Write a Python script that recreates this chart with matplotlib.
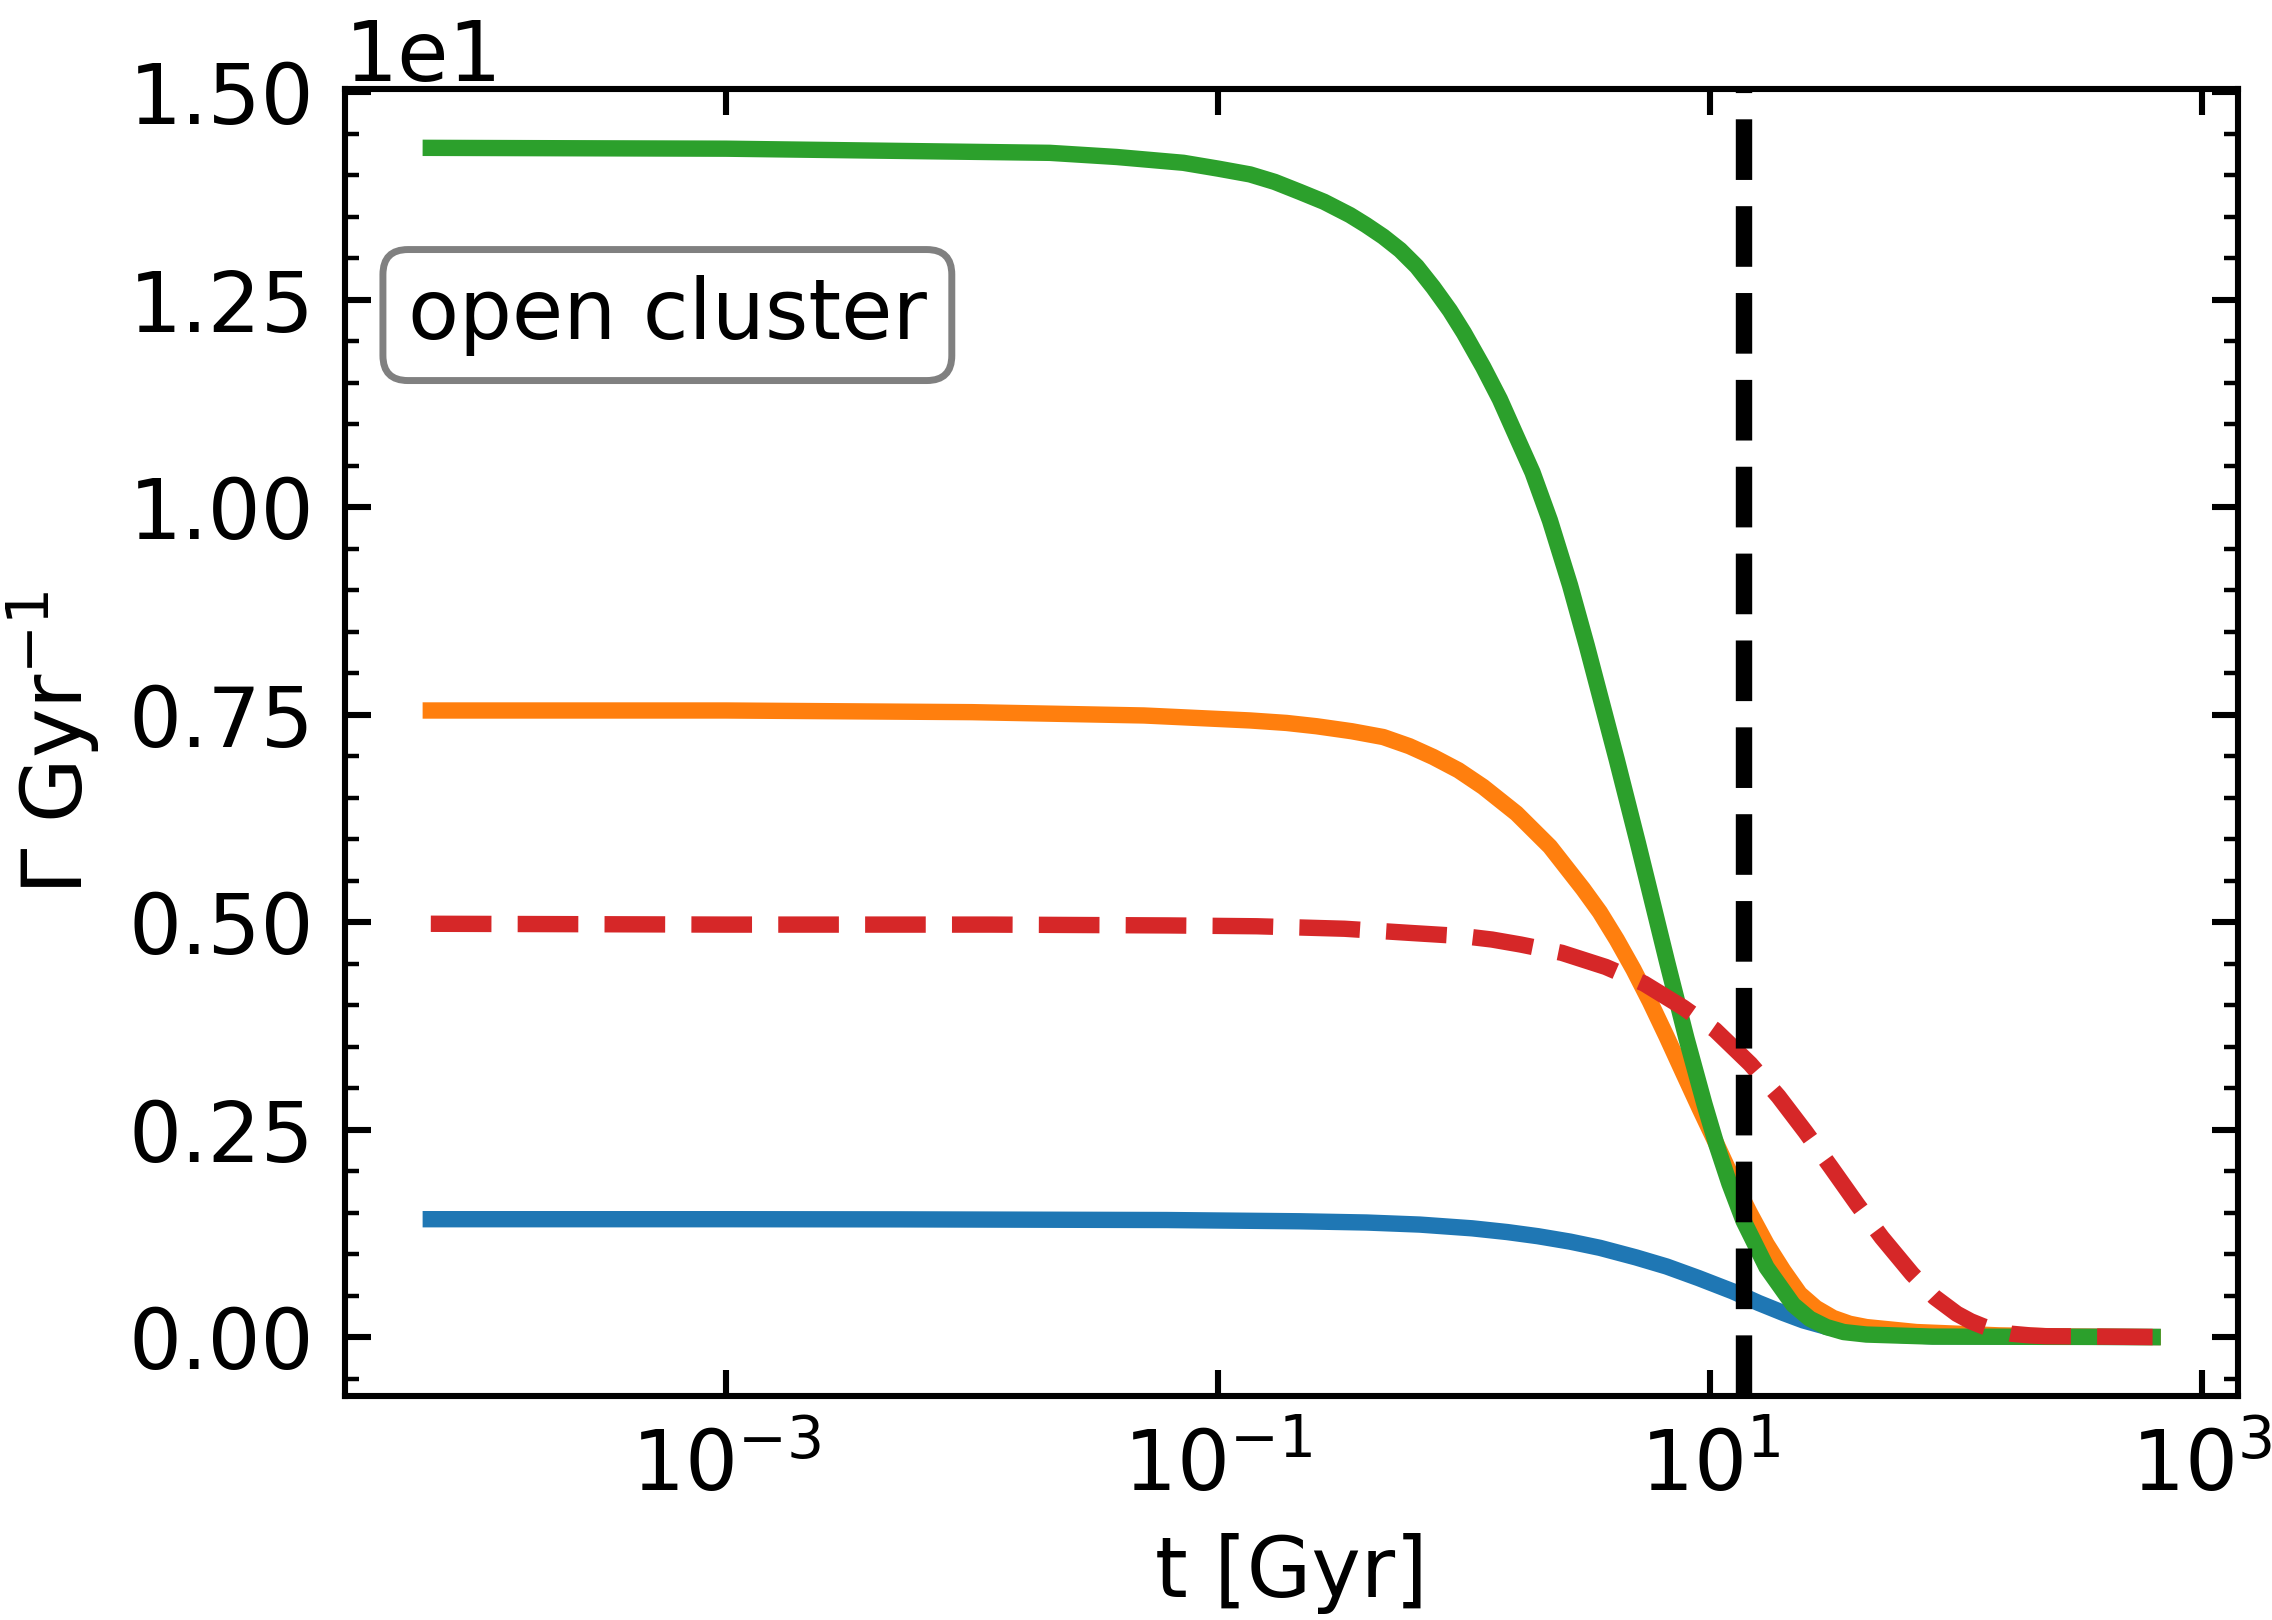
import matplotlib
matplotlib.use('Agg')
import matplotlib.pyplot as plt
import matplotlib.ticker as ticker

# values (t in Gyr, Gamma in Gyr^-1)
t_blue = [6.3e-5, 1e-3, 0.0051, 0.0618, 0.215, 0.402, 0.662, 1.08, 1.5, 2.0, 2.7, 3.57,
          5.0, 6.67, 9.0, 12.4, 15.8, 19.9, 24.0, 30.0, 37.0, 45.0, 80.0, 631.0]
g_blue = [1.42, 1.42, 1.418, 1.41, 1.395, 1.38, 1.355, 1.31, 1.265, 1.215, 1.15, 1.075,
          0.96, 0.85, 0.71, 0.55, 0.41, 0.29, 0.20, 0.12, 0.07, 0.04, 0.01, 0.0]

t_orange = [6.3e-5, 1e-3, 0.01, 0.05, 0.135, 0.19, 0.252, 0.35, 0.47, 0.6, 0.75, 0.95,
            1.197, 1.636, 2.237, 3.05, 3.57, 4.18, 4.89, 5.71, 6.67, 7.8, 9.1, 10.66,
            12.4, 14.5, 17.0, 19.9, 23.2, 27.0, 31.7, 37.0, 43.3, 69.2, 150.0, 300.0, 631.0]
g_orange = [7.55, 7.55, 7.53, 7.49, 7.43, 7.40, 7.36, 7.30, 7.23, 7.12, 6.99, 6.83,
            6.63, 6.31, 5.91, 5.40, 5.12, 4.79, 4.43, 4.04, 3.62, 3.18, 2.75, 2.32,
            1.90, 1.50, 1.12, 0.80, 0.52, 0.35, 0.23, 0.16, 0.12, 0.06, 0.02, 0.005, 0.0]

t_green = [6.3e-5, 1e-3, 0.0207, 0.0387, 0.0723, 0.1, 0.135, 0.17, 0.215, 0.27, 0.344,
           0.4, 0.47, 0.55, 0.643, 0.75, 0.877, 1.0, 1.197, 1.4, 1.636, 1.9, 2.237, 2.70,
           3.16, 4.18, 5.1, 5.92, 6.7, 8.03, 9.5, 10.66, 12.0, 13.7, 17.0, 21.8, 25.5,
           29.8, 35.0, 43.3, 80.5, 631.0]
g_green = [14.33, 14.32, 14.27, 14.22, 14.15, 14.08, 14.01, 13.92, 13.80, 13.68, 13.52,
           13.40, 13.26, 13.10, 12.90, 12.65, 12.37, 12.10, 11.69, 11.30, 10.85, 10.42,
           9.84, 9.06, 8.33, 6.96, 5.95, 5.17, 4.52, 3.60, 2.81, 2.31, 1.85, 1.40, 0.84,
           0.39, 0.22, 0.12, 0.06, 0.03, 0.005, 0.0]

t_red = [6.3e-5, 1e-3, 0.012, 0.0628, 0.1436, 0.327, 0.603, 1.0, 1.3, 1.7, 2.5, 3.77,
         5.4, 7.8, 10.5, 14.6, 19.0, 24.5, 31.0, 39.7, 50.0, 66.4, 82.0, 101.0, 115.0,
         129.0, 145.0, 168.0, 200.0, 232.0, 631.0]
g_red = [4.98, 4.97, 4.97, 4.96, 4.95, 4.92, 4.87, 4.83, 4.79, 4.73, 4.63, 4.46,
         4.26, 3.97, 3.70, 3.29, 2.90, 2.47, 2.05, 1.60, 1.20, 0.76, 0.48, 0.28, 0.19,
         0.13, 0.08, 0.04, 0.02, 0.01, 0.0]

t_universe = 13.8

fs = 30
lw = 5.9

fig = plt.figure(figsize=(11.36, 8.1), dpi=200)
ax = fig.add_axes([0.1518, 0.1383, 0.8332, 0.8068])

ax.plot(t_blue, g_blue, color='C0', lw=lw)
ax.plot(t_orange, g_orange, color='C1', lw=lw)
ax.plot(t_green, g_green, color='C2', lw=lw)
ax.plot(t_red, g_red, color='C3', lw=lw, linestyle='--')
ax.axvline(t_universe, color='k', lw=lw, linestyle='--')

ax.set_xscale('log')
ax.set_xlim(10**-4.55, 10**3.147)
ax.set_ylim(-0.71, 15.04)

ax.set_xticks([1e-3, 1e-1, 1e1, 1e3])
ax.xaxis.set_minor_locator(ticker.NullLocator())
ax.yaxis.set_major_locator(ticker.MultipleLocator(2.5))
ax.yaxis.set_minor_locator(ticker.AutoMinorLocator(5))
ax.ticklabel_format(axis='y', style='sci', scilimits=(0, 0))

ax.tick_params(which='both', direction='in', top=True, right=True, labelsize=fs, pad=11)
ax.tick_params(which='major', length=9.4, width=2.2)
ax.tick_params(which='minor', length=5, width=1.6)
ax.yaxis.get_offset_text().set_fontsize(fs)
for s in ax.spines.values():
    s.set_linewidth(2.2)

ax.set_xlabel('t [Gyr]', fontsize=fs, labelpad=9)
ax.set_ylabel(r'$\Gamma$ Gyr$^{-1}$', fontsize=fs, labelpad=9.5)

ax.text(0.0333, 0.827, 'open cluster', transform=ax.transAxes, fontsize=fs,
        ha='left', va='center',
        bbox=dict(boxstyle='round', facecolor='white', edgecolor='gray', linewidth=2.5))

fig.savefig('out.png', dpi=200)
